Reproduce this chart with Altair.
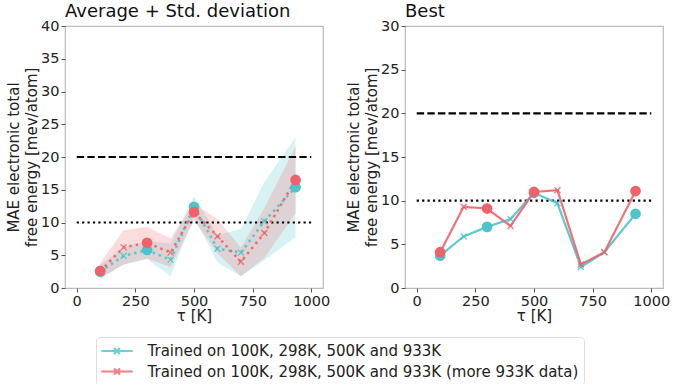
import altair as alt
import pandas as pd

# ---------------- data ----------------
temps = [100, 200, 300, 400, 500, 600, 700, 800, 933]
trained = [100, 300, 500, 933]

avg_a = [2.5, 4.9, 5.8, 4.3, 12.4, 6.0, 5.4, 10.2, 15.4]
std_a = [1.0, 1.3, 1.4, 2.5, 1.6, 2.1, 3.6, 6.0, 7.6]
avg_b = [2.6, 6.2, 6.9, 5.4, 11.6, 7.9, 4.0, 8.4, 16.5]
std_b = [1.2, 2.6, 2.4, 2.2, 1.3, 2.6, 2.2, 3.8, 5.1]

best_a = [3.7, 5.9, 7.0, 7.9, 10.9, 9.7, 2.4, 4.1, 8.5]
best_b = [4.1, 9.3, 9.1, 7.1, 11.0, 11.2, 2.7, 4.1, 11.1]

series_names = [
    "Trained on 100K, 298K, 500K and 933K",
    "Trained on 100K, 298K, 500K and 933K (more 933K data)",
]
colors = ["#4cc4ca", "#f0626a"]

ref_levels = [20, 10]
ref_x = [0, 1000]

x_ticks = [0, 250, 500, 750, 1000]

# ---------------- tables ----------------
rows_avg = []
for name, m, s in [(series_names[0], avg_a, std_a), (series_names[1], avg_b, std_b)]:
    for t, mv, sv in zip(temps, m, s):
        rows_avg.append({"T": t, "y": mv, "lo": mv - sv, "hi": mv + sv,
                         "series": name, "trained": t in trained})
df_avg = pd.DataFrame(rows_avg)

rows_best = []
for name, m in [(series_names[0], best_a), (series_names[1], best_b)]:
    for t, mv in zip(temps, m):
        rows_best.append({"T": t, "y": mv, "series": name, "trained": t in trained})
df_best = pd.DataFrame(rows_best)

df_ref = pd.DataFrame({"x0": [ref_x[0]] * 2, "x1": [ref_x[1]] * 2, "y": ref_levels})

FONT = "DejaVu Sans"
XSHAPE = "M-1,-1L1,1M-1,1L1,-1"
LEGEND_SYMBOL = "M-2.1,0L2.1,0M-0.4,-0.4L0.4,0.4M-0.4,0.4L0.4,-0.4"

color_scale = alt.Scale(domain=series_names, range=colors)
LEGEND = alt.Legend(title=None)
Y_TITLE = ["MAE electronic total", "free energy [mev/atom]"]


def make_panel(df, ymax, title, with_band, dotted):
    xaxis = alt.Axis(values=x_ticks, title="τ [K]", grid=False, format="d",
                     labelOverlap=False)
    yaxis = alt.Axis(values=list(range(0, ymax + 1, 5)), grid=False,
                     labelOverlap=False, title=Y_TITLE)
    yscale = alt.Scale(domain=[0, ymax], nice=False)
    x = alt.X("T:Q", scale=alt.Scale(domain=[-50, 1050], nice=False, zero=False),
              axis=xaxis)
    y = alt.Y("y:Q", scale=yscale, axis=yaxis)
    col = alt.Color("series:N", scale=color_scale, legend=LEGEND)

    layers = []
    base = alt.Chart(df)
    if with_band:
        layers.append(base.mark_area(opacity=0.22).encode(
            x=x, y=alt.Y("lo:Q", scale=yscale, axis=yaxis),
            y2="hi:Q", color=col, detail="series:N"))
    ref = alt.Chart(df_ref)
    layers.append(ref.transform_filter("datum.y == 20").mark_rule(
        color="black", strokeWidth=2.2, strokeDash=[7.4, 3.2]).encode(
        x=alt.X("x0:Q", axis=xaxis), x2="x1:Q", y=alt.Y("y:Q", axis=yaxis)))
    layers.append(ref.transform_filter("datum.y == 10").mark_rule(
        color="black", strokeWidth=2.2, strokeDash=[2.2, 3.2]).encode(
        x=alt.X("x0:Q", axis=xaxis), x2="x1:Q", y=alt.Y("y:Q", axis=yaxis)))
    if dotted:
        line = base.mark_line(strokeWidth=2.6, strokeDash=[2.5, 4], opacity=0.9)
    else:
        line = base.mark_line(strokeWidth=2.2, opacity=0.9)
    layers.append(line.encode(x=x, y=y, color=col, detail="series:N"))
    layers.append(base.mark_point(shape=XSHAPE, size=36, filled=False,
                                  strokeWidth=1.3, opacity=0.85).encode(
        x=x, y=y, color=col))
    layers.append(base.transform_filter("datum.trained").mark_circle(
        size=115, opacity=1).encode(x=x, y=y, color=col))

    return alt.layer(*layers).properties(
        width=258, height=262,
        title=alt.TitleParams(title, anchor="start", fontSize=18, font=FONT,
                              fontWeight="normal", color="#111111", offset=-3,
                              frame="group"),
    )


left = make_panel(df_avg, 40, "Average + Std. deviation", True, True)
right = make_panel(df_best, 30, "Best", False, False)

chart = alt.hconcat(left, right, spacing=82, bounds="flush").resolve_scale(
    y="independent", color="shared"
).properties(
    padding={"left": 5, "top": 2, "right": 5, "bottom": 0},
).configure_view(
    stroke="#bbbbbb", strokeWidth=1.2
).configure_axis(
    labelFont=FONT, titleFont=FONT, labelFontSize=14.5, titleFontSize=15,
    titleFontWeight="normal", labelColor="#222222", titleColor="#222222",
    domain=False, tickColor="#555555", tickSize=4, labelPadding=2,
    titlePadding=1, titleLineHeight=18,
).configure_legend(
    orient="none", legendX=31, legendY=311,
    direction="vertical", symbolType=LEGEND_SYMBOL, symbolSize=225,
    symbolStrokeWidth=2.2, symbolOpacity=0.8, symbolOffset=7,
    labelFontSize=15, labelFont=FONT, labelColor="#222222",
    rowPadding=3.5, padding=5, labelOffset=21.5, labelLimit=600,
    strokeColor="#dddddd", fillColor="white", cornerRadius=4,
)

chart.save("out.html", embed_options={"renderer": "svg", "actions": False})
